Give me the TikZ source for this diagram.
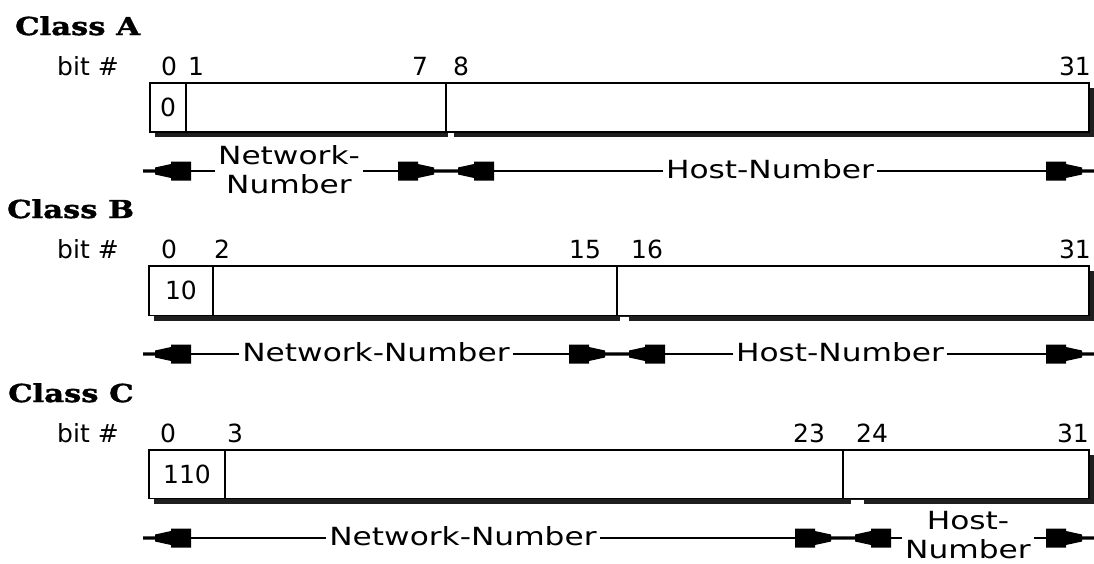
\documentclass[tikz,border=0pt]{standalone}
\usepackage{fontspec}
\newfontfamily\numfont{DejaVu Sans}
\newfontfamily\lblfont[FakeStretch=1.25]{DejaVu Sans}
\newfontfamily\clsfont[FakeStretch=1.24,FakeBold=1.6]{DejaVu Serif Bold}
\tikzset{
  num/.style={inner sep=0pt,anchor=base,font=\numfont\fontsize{25}{29}\selectfont},
  lbl/.style={inner xsep=3pt,inner ysep=0pt,font=\lblfont\fontsize{25}{29}\selectfont,align=center},
  cls/.style={inner sep=0pt,anchor=base west,font=\clsfont\fontsize{24.7}{28}\selectfont},
  field/.style={draw,line width=1.8pt,fill=white},
  shadowbar/.style={fill=black!88},
  divider/.style={line width=2pt},
  conn/.style={line width=1.4pt},
  notch/.style={fill=white},
  lhead/.pic={\fill (0,-1.7) -- (12,-1.7) -- (12,-3.5) -- (28,-7) -- (28,-9.5) -- (48,-9.5)
     -- (48,9.5) -- (28,9.5) -- (28,7) -- (12,3.5) -- (12,1.7) -- (0,1.7) -- cycle;},
  rhead/.pic={\fill (0,-1.7) -- (-12,-1.7) -- (-12,-3.5) -- (-28,-7) -- (-28,-9.5) -- (-48,-9.5)
     -- (-48,9.5) -- (-28,9.5) -- (-28,7) -- (-12,3.5) -- (-12,1.7) -- (0,1.7) -- cycle;}
}
\begin{document}
\begin{tikzpicture}[x=1pt,y=-1pt]
\useasboundingbox (0,0) rectangle (1094,563);

% ---------------- Class A ----------------
\node[cls] (clsA) at (15,35) {Class A};
\node[num,anchor=base west] (bitA) at (57,75) {bit \#};
\node[num] (a0) at (169,75) {0};
\node[num] (a1n) at (196,75) {1};
\node[num] (a7) at (420,75) {7};
\node[num] (a8) at (461,75) {8};
\node[num,anchor=base east] (a31) at (1091,75) {31};
\fill[shadowbar] (155,88) rectangle (1094,137);
\draw[field] (150,83) rectangle (1089,132);
\draw[divider] (186,83) -- (186,132);
\draw[divider] (446,83) -- (446,132);
\fill[notch] (448,133) rectangle (454,137.5);
\node[num] (cellA) at (168,116) {0};

\pic at (143,171) {lhead};
\coordinate (pa1) at (191,171);
\node[lbl] (netA) at (289,170) {Network-\\Number};
\draw[conn] (pa1) -- (pa1 -| netA.west);
\coordinate (pa2) at (398,171);
\draw[conn] (pa2 -| netA.east) -- (pa2);
\pic at (446,171) {rhead};
\pic at (446,171) {lhead};
\coordinate (pa3) at (494,171);
\node[lbl] (hostA) at (770,169) {Host-Number};
\draw[conn] (pa3) -- (pa3 -| hostA.west);
\coordinate (pa4) at (1046,171);
\draw[conn] (pa4 -| hostA.east) -- (pa4);
\pic at (1094,171) {rhead};

% ---------------- Class B ----------------
\node[cls] (clsB) at (7,218) {Class B};
\node[num,anchor=base west] (bitB) at (57,258) {bit \#};
\node[num] (b0) at (169,258) {0};
\node[num] (b2) at (222,258) {2};
\node[num] (b15) at (585,258) {15};
\node[num] (b16) at (647,258) {16};
\node[num,anchor=base east] (b31) at (1091,258) {31};
\fill[shadowbar] (154,271) rectangle (1094,320.5);
\draw[field] (149,266) rectangle (1089,315.5);
\draw[divider] (213,266) -- (213,315.5);
\draw[divider] (617,266) -- (617,315.5);
\fill[notch] (620,316.5) rectangle (629,320.5);
\node[num] (cellB) at (181,299.5) {10};

\pic at (143,354) {lhead};
\coordinate (pb1) at (191,354);
\node[lbl] (netB) at (376,352) {Network-Number};
\draw[conn] (pb1) -- (pb1 -| netB.west);
\coordinate (pb2) at (569,354);
\draw[conn] (pb2 -| netB.east) -- (pb2);
\pic at (617,354) {rhead};
\pic at (617,354) {lhead};
\coordinate (pb3) at (665,354);
\node[lbl] (hostB) at (840,352) {Host-Number};
\draw[conn] (pb3) -- (pb3 -| hostB.west);
\coordinate (pb4) at (1046,354);
\draw[conn] (pb4 -| hostB.east) -- (pb4);
\pic at (1094,354) {rhead};

% ---------------- Class C ----------------
\node[cls] (clsC) at (8,402) {Class C};
\node[num,anchor=base west] (bitC) at (57,442) {bit \#};
\node[num] (c0) at (168,442) {0};
\node[num] (c3) at (235,442) {3};
\node[num] (c23) at (809,442) {23};
\node[num] (c24) at (872,442) {24};
\node[num,anchor=base east] (c31) at (1089,442) {31};
\fill[shadowbar] (154,455) rectangle (1094,503.5);
\draw[field] (149,450) rectangle (1089,498.5);
\draw[divider] (225,450) -- (225,498.5);
\draw[divider] (843,450) -- (843,498.5);
\fill[notch] (851,499.5) rectangle (864,503.5);
\node[num] (cellC) at (187,483) {110};

\pic at (143,538) {lhead};
\coordinate (pc1) at (191,538);
\node[lbl] (netC) at (463,536) {Network-Number};
\draw[conn] (pc1) -- (pc1 -| netC.west);
\coordinate (pc2) at (795,538);
\draw[conn] (pc2 -| netC.east) -- (pc2);
\pic at (843,538) {rhead};
\pic at (843,538) {lhead};
\coordinate (pc3) at (891,538);
\node[lbl] (hostC) at (968,535) {Host-\\Number};
\draw[conn] (pc3) -- (pc3 -| hostC.west);
\coordinate (pc4) at (1046,538);
\draw[conn] (pc4 -| hostC.east) -- (pc4);
\pic at (1094,538) {rhead};
\end{tikzpicture}
\end{document}
